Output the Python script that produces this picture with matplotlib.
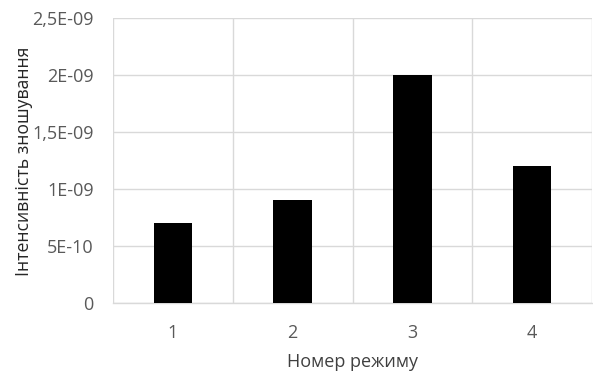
import matplotlib
matplotlib.use("Agg")
import matplotlib.pyplot as plt
from matplotlib.ticker import FixedLocator

categories = ["1", "2", "3", "4"]
values = [7e-10, 9e-10, 2e-09, 1.2e-09]
ytick_vals = [0, 5e-10, 1e-09, 1.5e-09, 2e-09, 2.5e-09]
ytick_labels = ["0", "5E-10", "1E-09", "1,5E-09", "2E-09", "2,5E-09"]
xlabel = "Номер режиму"
ylabel = "Інтенсивність зношування"

plt.rcParams['font.family'] = ['Open Sans', 'DejaVu Sans']

fig = plt.figure(figsize=(5.93, 3.78), dpi=100)
W, H = 593, 378
ax = fig.add_axes([113 / W, 1 - 303 / H, (592 - 113) / W, (303 - 18) / H])

x = list(range(len(categories)))
ax.bar(x, values, width=0.32, color="black", zorder=3)

ax.set_xlim(-0.5, len(categories) - 0.5)
ax.set_ylim(0, 2.5e-09)
ax.yaxis.set_major_locator(FixedLocator(ytick_vals))
ax.set_yticklabels(ytick_labels)
ax.set_xticks(x)
ax.set_xticklabels(categories)
ax.set_xticks([i + 0.5 for i in range(-1, len(categories))], minor=True)

grid_c = "#d9d9d9"
ax.grid(axis="y", which="major", color=grid_c, linewidth=1, zorder=0)
ax.grid(axis="x", which="minor", color=grid_c, linewidth=1, zorder=0)
ax.grid(axis="x", which="major", visible=False)

for s in ["top", "right", "left"]:
    ax.spines[s].set_visible(False)
ax.spines["bottom"].set_color(grid_c)
ax.spines["bottom"].set_linewidth(1)

ax.tick_params(axis="both", which="both", length=0, colors="#595959", labelsize=13)
ax.tick_params(axis="x", pad=15)
ax.tick_params(axis="y", pad=14)

ax.set_xlabel(xlabel, fontsize=13, color="#404040", labelpad=8)
fig.text(24 / W, 1 - 161 / H, ylabel, rotation=90, fontsize=12.7,
         color="#262626", ha="center", va="center")

fig.savefig("out.png", dpi=100, facecolor="white")
